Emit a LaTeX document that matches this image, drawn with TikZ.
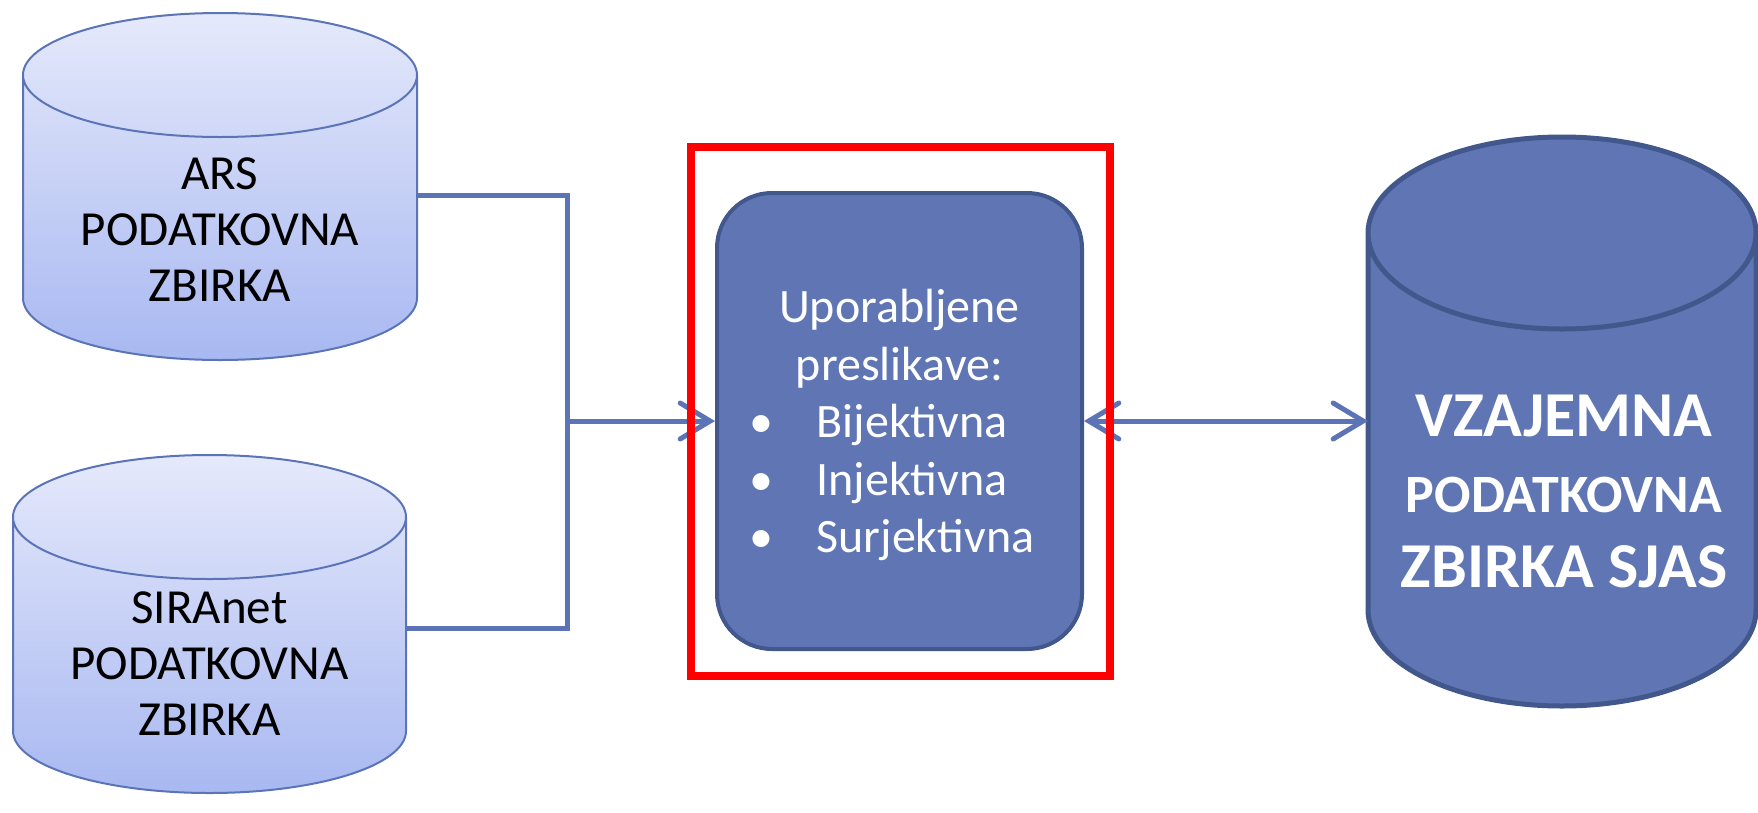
\documentclass[tikz,border=0pt]{standalone}
\usepackage{fontspec}
\setmainfont{Carlito}
\usetikzlibrary{arrows.meta,positioning,shapes.geometric,calc}

\definecolor{dbedge}{HTML}{5B74B8}
\definecolor{dbtop}{HTML}{E5E9FB}
\definecolor{dbbot}{HTML}{A8B8F1}
\definecolor{boxfill}{HTML}{6076B4}
\definecolor{boxedge}{HTML}{42578B}
\definecolor{linkcol}{HTML}{5C73B6}

% database drum round a body node: #1 node, #2 cap radius, #3 style
\newcommand{\drum}[3]{%
  \path[#3] let \p1=(#1.north west), \p2=(#1.south east), \n1={(\x2-\x1)/2} in
    ([yshift=-#2]#1.north west) -- ([yshift=#2]#1.south west)
    arc[start angle=180, end angle=360, x radius=\n1, y radius=#2]
    -- ([yshift=-#2]#1.north east)
    arc[start angle=0, end angle=180, x radius=\n1, y radius=#2] -- cycle
    ([yshift=-#2]#1.north west)
    arc[start angle=180, end angle=360, x radius=\n1, y radius=#2];
}

\begin{document}
\begin{tikzpicture}[
  x=1pt, y=-1pt,
  >={Straight Barb[length=30pt,width=36pt,line cap=round]},
  dbbody/.style={inner sep=0pt, outer sep=0pt},
  srcfill/.style={draw=dbedge, line width=2pt, top color=dbtop, bottom color=dbbot},
  tgtfill/.style={draw=boxedge, line width=5pt, fill=boxfill},
  srctext/.style={align=center, font=\fontsize{49}{56}\selectfont},
  tgttext/.style={align=center, text=white, font=\bfseries\fontsize{64}{75.5}\selectfont},
  mapbox/.style={
    draw=boxedge, line width=4pt, fill=boxfill, rounded corners=55pt,
    minimum width=365pt, minimum height=456pt, text=white,
    font=\fontsize{48}{57.5}\selectfont
  },
  redframe/.style={draw=red, line width=8pt, minimum width=419pt, minimum height=529pt},
  link/.style={draw=linkcol, line width=5pt}
]
\useasboundingbox (0,0) rectangle (1758,812);

% source collections
\node[dbbody, minimum width=394pt, minimum height=347pt] (ars) at (220,186.5) {};
\drum{ars}{62pt}{srcfill}
\node[srctext] (arstext) at ([yshift=-43pt]ars.center) {ARS\\PODATKOVNA\\ZBIRKA};

\node[dbbody, minimum width=393pt, minimum height=338pt] (siranet) at (209.5,624) {};
\drum{siranet}{62pt}{srcfill}
\node[srctext] (siratext) at ([yshift=-40pt]siranet.center) {SIRAnet\\PODATKOVNA\\ZBIRKA};

% mappings
\node[mapbox] (map) at (899.5,421) {%
  \begin{tabular}{@{}l@{\hspace{43pt}}l@{\hspace{15pt}}}
    \multicolumn{2}{c}{\rule{0pt}{51pt}Uporabljene}\\
    \multicolumn{2}{c}{preslikave:}\\
    \textbullet & Bijektivna\\
    \textbullet & Injektivna\\
    \textbullet & Surjektivna
  \end{tabular}};

% joint collection
\node[dbbody, minimum width=388pt, minimum height=569pt] (sjas) at (1562,421.5) {};
\drum{sjas}{96pt}{tgtfill}
\node[tgttext] (sjastext) at ([yshift=-70pt,xshift=2pt]sjas.center)
  {VZAJEMNA\\{\fontsize{54}{75.5}\selectfont PODATKOVNA}\\ZBIRKA SJAS};

\coordinate (join) at (567,421);

\draw[link] ([yshift=-9pt]ars.east) -| (join) |- ([yshift=-4pt]siranet.east);
\draw[link, ->] (join) -- (map.west);
\draw[link, <->] (map.east) -- (map.east -| sjas.west);

\node[redframe] (focus) at (900.5,411.5) {};

\end{tikzpicture}
\end{document}
